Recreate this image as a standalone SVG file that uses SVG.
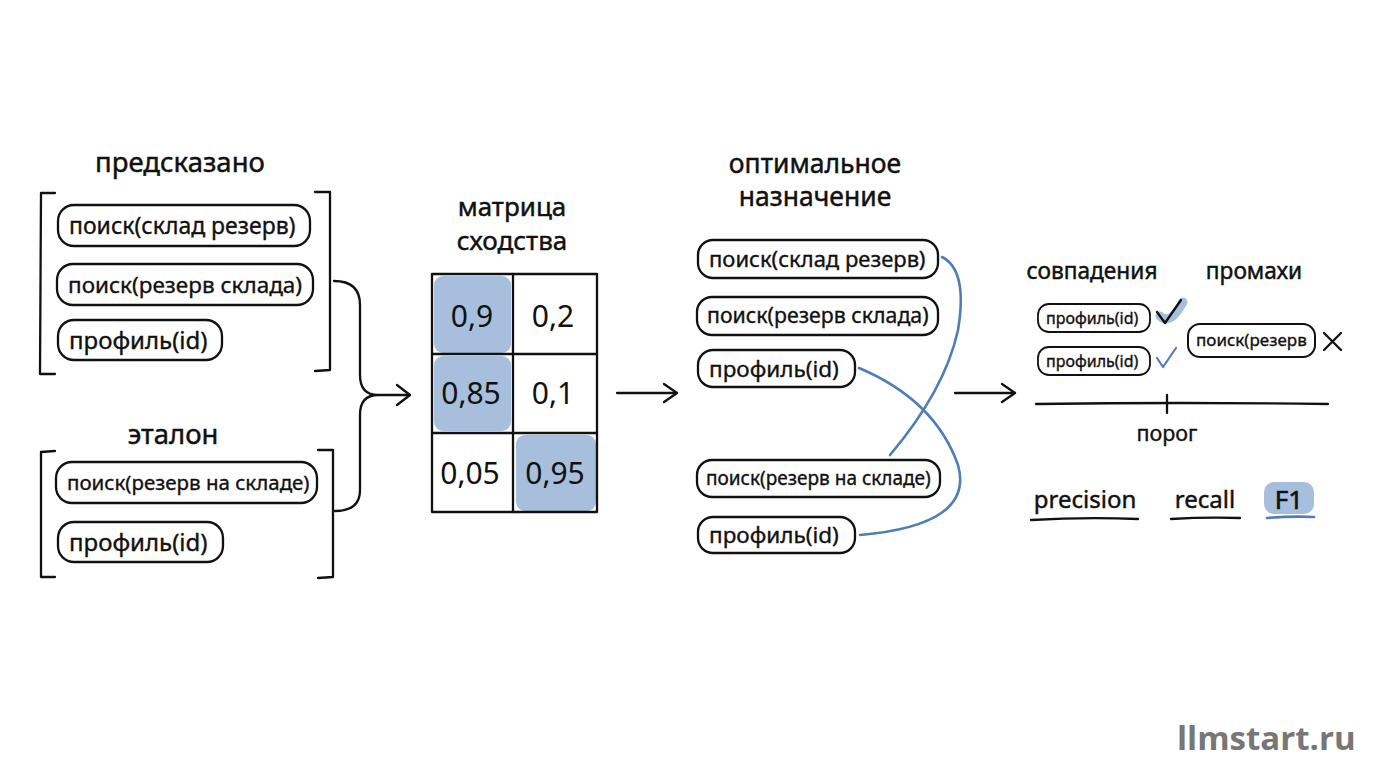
<svg xmlns="http://www.w3.org/2000/svg" width="1376" height="768" viewBox="0 0 1376 768">
<style>
.bg{fill:#ffffff}
.pill{fill:#ffffff;stroke:#111;stroke-width:2.3}
.ln{fill:none;stroke:#111;stroke-width:2.3;stroke-linecap:round;stroke-linejoin:round}
.bl{fill:none;stroke:#4f7db5;stroke-width:2.6;stroke-linecap:round;stroke-linejoin:round}
.hl{fill:#a7bfdc}
.t{font-family:"Noto Sans","DejaVu Sans",sans-serif;fill:#111;stroke:#111;stroke-width:0.35}
.h{font-size:27.5px;text-anchor:middle;stroke-width:0.45}
.h2{font-size:26.5px;text-anchor:middle;stroke-width:0.45}
.p{font-size:23px}
.sp{font-size:16px}
.num{font-size:30px;text-anchor:middle;stroke-width:0}
.wm{font-family:"Open Sans","Noto Sans",sans-serif;font-weight:700;font-size:33px;fill:#777}
</style>
<rect class="bg" x="0" y="0" width="1376" height="768"/>

<g id="predicted">
  <text class="t h" x="180" y="172">предсказано</text>
  <path class="ln" d="M55,193 L41,193 L40,374 L55,374"/>
  <path class="ln" d="M315,192 L330,192 L330,370 L315,371"/>
  <rect class="pill" x="58" y="205" width="252" height="41" rx="16"/>
  <text class="t p" x="69" y="234">поиск(склад резерв)</text>
  <rect class="pill" x="57" y="264" width="256" height="41" rx="16"/>
  <text class="t" style="font-size:22.5px" x="68" y="293">поиск(резерв склада)</text>
  <rect class="pill" x="58" y="320" width="164" height="40" rx="16"/>
  <text class="t" style="font-size:24px" x="69" y="349">профиль(id)</text>
</g>

<g id="reference">
  <text class="t h" x="173" y="444">эталон</text>
  <path class="ln" d="M55,451 L41,452 L41,577 L55,577"/>
  <path class="ln" d="M318,450 L333,450 L333,577 L318,578"/>
  <rect class="pill" x="56" y="462" width="261" height="41" rx="16"/>
  <text class="t" style="font-size:20.5px" x="67" y="490">поиск(резерв на складе)</text>
  <rect class="pill" x="58" y="522" width="165" height="40" rx="16"/>
  <text class="t" style="font-size:24px" x="69" y="551">профиль(id)</text>
</g>

<g id="matrix">
  <text class="t h2" style="font-size:26px" x="512" y="216">матрица</text>
  <text class="t h2" style="font-size:26px" x="512" y="250">сходства</text>
  <rect class="hl" x="434" y="276" width="77" height="77" rx="9"/>
  <rect class="hl" x="434" y="356" width="77" height="75" rx="9"/>
  <rect class="hl" x="516" y="435" width="80" height="76" rx="9"/>
  <rect class="ln" x="432" y="274" width="165" height="238"/>
  <path class="ln" d="M513,274 L513,512 M432,354 L597,354 M432,433 L597,433"/>
  <text class="t num" x="472" y="327">0,9</text>
  <text class="t num" x="553" y="327">0,2</text>
  <text class="t num" x="471" y="404">0,85</text>
  <text class="t num" x="553" y="404">0,1</text>
  <text class="t num" x="470" y="484">0,05</text>
  <text class="t num" x="555" y="484">0,95</text>
</g>

<g id="assignment">
  <text class="t h2" x="815" y="173">оптимальное</text>
  <text class="t h2" x="815" y="206">назначение</text>
  <rect class="pill" x="698" y="240" width="240" height="38" rx="15"/>
  <text class="t" style="font-size:22px" x="709" y="267">поиск(склад резерв)</text>
  <rect class="pill" x="697" y="297" width="241" height="38" rx="15"/>
  <text class="t" style="font-size:21.3px" x="707" y="323">поиск(резерв склада)</text>
  <rect class="pill" x="698" y="350" width="157" height="37" rx="15"/>
  <text class="t" style="font-size:22.5px" x="709" y="377">профиль(id)</text>
  <rect class="pill" x="697" y="460" width="243" height="37" rx="15"/>
  <text class="t" style="font-size:19px" x="706" y="485">поиск(резерв на складе)</text>
  <rect class="pill" x="698" y="517" width="157" height="36" rx="15"/>
  <text class="t" style="font-size:22.5px" x="709" y="543">профиль(id)</text>
</g>

<g id="results">
  <text class="t" style="font-size:22.7px;text-anchor:middle;stroke-width:0.45" x="1092" y="279">совпадения</text>
  <text class="t" style="font-size:22.7px;text-anchor:middle;stroke-width:0.45" x="1254" y="279">промахи</text>
  <rect class="pill" x="1038" y="304" width="112" height="28" rx="11" style="stroke-width:1.8"/>
  <text class="t sp" x="1046" y="324">профиль(id)</text>
  <rect class="pill" x="1038" y="347" width="112" height="28" rx="11" style="stroke-width:1.8"/>
  <text class="t sp" x="1046" y="367">профиль(id)</text>
  <path d="M1160,316 Q1170,326 1183,302" fill="none" stroke="#a7bfdc" stroke-width="9" stroke-linecap="round"/>
  <path class="ln" d="M1157,312 L1165,323 L1181,300"/>
  <path class="bl" d="M1157,358 L1163,367 L1176,348" style="stroke-width:2.2"/>
  <rect class="pill" x="1188" y="324" width="127" height="33" rx="12" style="stroke-width:2"/>
  <text class="t" style="font-size:17px" x="1196" y="346">поиск(резерв</text>
  <path class="ln" d="M1324,333 L1341,350 M1341,333 L1324,350"/>
  <path class="ln" d="M1036,404 Q1180,402 1328,404"/>
  <path class="ln" d="M1167,395 L1167,413"/>
  <text class="t" style="font-size:21.5px;text-anchor:middle" x="1167" y="441">порог</text>
  <text class="t" style="font-size:24px;text-anchor:middle;stroke-width:0.45" x="1085" y="508">precision</text>
  <path class="ln" d="M1031,520 Q1085,517 1138,519"/>
  <text class="t" style="font-size:24px;text-anchor:middle;stroke-width:0.45" x="1205" y="508">recall</text>
  <path class="ln" d="M1171,519 Q1205,517 1240,518"/>
  <rect class="hl" x="1264" y="482" width="50" height="32" rx="10"/>
  <text class="t" style="font-size:26px;text-anchor:middle;stroke-width:0.6" x="1289" y="509">F1</text>
  <path class="bl" d="M1267,518 Q1290,516 1314,517"/>
</g>

<g id="connectors">
  <path class="ln" d="M334,281 Q360,281 360,305 L360,375 Q360,395 378,395 M335,511 Q360,511 360,490 L360,415 Q360,395 378,395 L410,395"/>
  <path class="ln" d="M397,385 L410,395 L397,405"/>
  <path class="ln" d="M617,393 L677,393"/>
  <path class="ln" d="M664,384 L677,393 L664,402"/>
  <path class="bl" d="M942,257 Q968,270 958,330 Q945,390 890,455"/>
  <path class="bl" d="M859,368 Q935,400 958,465 Q975,525 860,535"/>
  <path class="ln" d="M955,393 L1015,393"/>
  <path class="ln" d="M1002,384 L1015,393 L1002,402"/>
</g>

<text class="wm" x="1177" y="750">llmstart.ru</text>
</svg>
